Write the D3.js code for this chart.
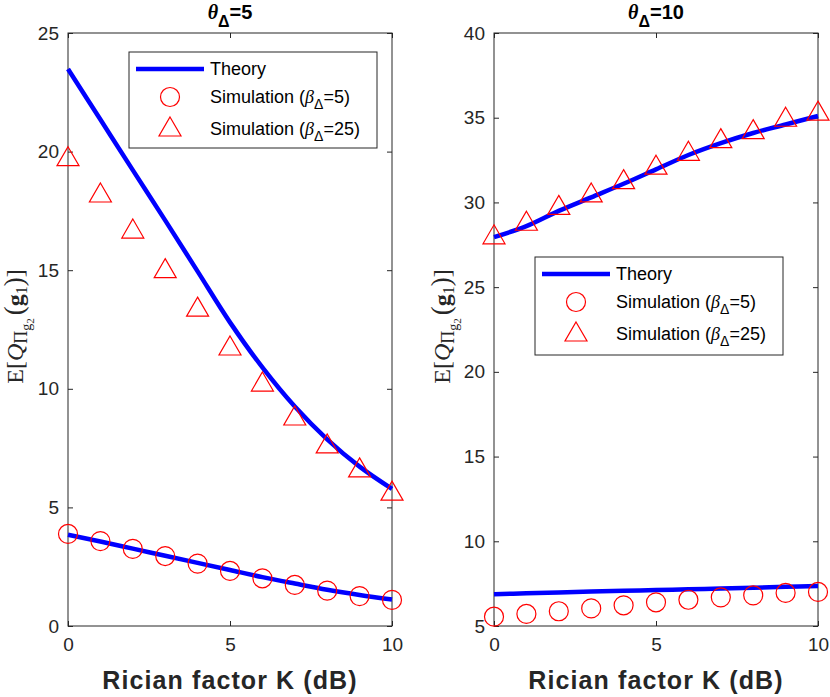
<!DOCTYPE html>
<html><head><meta charset="utf-8">
<script src="https://cdn.jsdelivr.net/npm/d3@7"></script>
<style>body{margin:0;background:#fff}svg{display:block}</style>
</head><body>
<script>
const K = [0,1,2,3,4,5,6,7,8,9,10];
// Panel 1 (theta=5)
const p1TheoryB25 = [23.48, 21.35, 19.22, 17.1, 14.95, 12.8, 10.9, 9.25, 7.87, 6.72, 5.78];
const p1SimB25    = [19.7, 18.17, 16.65, 14.98, 13.36, 11.72, 10.2, 8.77, 7.59, 6.58, 5.6];
const p1TheoryB5  = [3.85, 3.56, 3.26, 2.96, 2.66, 2.36, 2.06, 1.79, 1.53, 1.31, 1.12];
const p1SimB5     = [3.88, 3.58, 3.25, 2.95, 2.63, 2.32, 2.01, 1.73, 1.49, 1.26, 1.10];
// Panel 2 (theta=10)
const p2TheoryB25 = [27.95, 28.6, 29.5, 30.3, 31.1, 31.95, 32.8, 33.5, 34.1, 34.6, 35.1];
const p2SimB25    = [27.97, 28.77, 29.71, 30.44, 31.23, 32.08, 32.9, 33.65, 34.18, 34.91, 35.27];
const p2TheoryB5  = [6.87, 6.93, 6.98, 7.03, 7.08, 7.12, 7.17, 7.21, 7.26, 7.31, 7.36];
const p2SimB5     = [5.55, 5.71, 5.87, 6.04, 6.22, 6.40, 6.55, 6.69, 6.81, 6.95, 7.01];
const xTicks = [0,5,10];
const p1YTicks = [0,5,10,15,20,25];
const p2YTicks = [5,10,15,20,25,30,35,40];
const titles = ["5","10"];
const legendLabels = ["Theory","Simulation (","Simulation ("];
const legendVals = ["5","25"];

const W=830,H=697;
const svg=d3.select("body").append("svg").attr("width",W).attr("height",H);
const SANS="'Liberation Sans', Arial, Helvetica, sans-serif";
const SERIF="'Liberation Serif','DejaVu Serif',serif";
const AX="#262626";
const BLUE="#0000ff", RED="#ff0000";

const panels=[
 {x0:68,x1:392,y0:33,y1:626,dom:[0,25],yt:p1YTicks,th:[p1TheoryB25,p1TheoryB5],c:p1SimB5,t:p1SimB25,title:titles[0],
  leg:{x:129,y:52,w:248,h:96},ylabX:23},
 {x0:494,x1:818,y0:33,y1:626,dom:[5,40],yt:p2YTicks,th:[p2TheoryB25,p2TheoryB5],c:p2SimB5,t:p2SimB25,title:titles[1],
  leg:{x:535,y:257,w:248,h:98},ylabX:450}
];

panels.forEach(p=>{
  const x=d3.scaleLinear().domain([0,10]).range([p.x0,p.x1]);
  const y=d3.scaleLinear().domain(p.dom).range([p.y1,p.y0]);
  const g=svg.append("g");
  g.append("rect").attr("x",p.x0).attr("y",p.y0).attr("width",p.x1-p.x0).attr("height",p.y1-p.y0)
   .attr("fill","none").attr("stroke",AX).attr("stroke-width",1);
  const ax=g.append("g").attr("transform",`translate(0,${p.y1})`)
    .call(d3.axisBottom(x).tickValues(xTicks).tickSize(-5).tickPadding(12).tickFormat(d3.format("d")));
  const axT=g.append("g").attr("transform",`translate(0,${p.y0})`)
    .call(d3.axisTop(x).tickValues(xTicks).tickSize(-5).tickFormat(""));
  const ay=g.append("g").attr("transform",`translate(${p.x0},0)`)
    .call(d3.axisLeft(y).tickValues(p.yt).tickSize(-5).tickPadding(9).tickFormat(d3.format("d")));
  const ayR=g.append("g").attr("transform",`translate(${p.x1},0)`)
    .call(d3.axisRight(y).tickValues(p.yt).tickSize(-5).tickFormat(""));
  [ax,axT,ay,ayR].forEach(a=>{
    a.select(".domain").remove();
    a.selectAll("line").attr("stroke",AX);
    a.selectAll("text").attr("font-family",SANS).attr("font-size",19).attr("fill",AX);
  });
  const line=d3.line().x((d,i)=>x(K[i])).y(d=>y(d)).curve(d3.curveCatmullRom);
  p.th.forEach(s=>g.append("path").attr("d",line(s)).attr("fill","none").attr("stroke",BLUE).attr("stroke-width",4.5));
  g.selectAll(".c").data(p.c).enter().append("circle")
   .attr("cx",(d,i)=>x(K[i])).attr("cy",d=>y(d)).attr("r",9.5)
   .attr("fill","none").attr("stroke",RED).attr("stroke-width",1.2);
  const tri=(cx,cy)=>`M${cx},${cy-12}L${cx+11},${cy+7}L${cx-11},${cy+7}Z`;
  g.selectAll(".t").data(p.t).enter().append("path")
   .attr("d",(d,i)=>tri(x(K[i]),y(d)))
   .attr("fill","none").attr("stroke",RED).attr("stroke-width",1.2);
  const cx=(p.x0+p.x1)/2;
  const tt=g.append("text").attr("x",cx).attr("y",19).attr("text-anchor","middle")
    .attr("font-family",SANS).attr("font-weight","bold").attr("font-size",20).attr("fill","#000");
  tt.append("tspan").attr("font-family",SERIF).attr("font-style","italic").text("θ");
  tt.append("tspan").attr("dy",8).attr("font-size",16).text("Δ");
  tt.append("tspan").attr("dy",-8).text("="+p.title);
  g.append("text").attr("x",cx).attr("y",689).attr("text-anchor","middle")
   .attr("font-family",SANS).attr("font-weight","bold").attr("font-size",25).attr("letter-spacing",1.1).attr("fill",AX)
   .text("Rician factor K (dB)");
  // y label
  const yl=g.append("text").attr("transform",`translate(${p.ylabX},${(p.y0+p.y1)/2-3}) rotate(-90)`)
    .attr("text-anchor","middle").attr("font-family",SERIF).attr("font-size",24).attr("fill",AX);
  yl.append("tspan").text("E[");
  yl.append("tspan").attr("font-style","italic").text("Q");
  yl.append("tspan").attr("font-size",18).attr("dy",4).text("Π");
  yl.append("tspan").attr("font-size",14).attr("dy",4).text("g");
  yl.append("tspan").attr("font-size",11).attr("dy",3).text("2");
  yl.append("tspan").attr("dy",-11).attr("font-size",27).attr("dx",3).text("(");
  yl.append("tspan").attr("font-weight","bold").text("g");
  yl.append("tspan").attr("font-size",16).attr("dy",4).text("1");
  yl.append("tspan").attr("font-size",27).attr("dy",-4).text(")");
  yl.append("tspan").text("]");
  // legend
  const L=p.leg;
  g.append("rect").attr("x",L.x).attr("y",L.y).attr("width",L.w).attr("height",L.h)
   .attr("fill","#fff").attr("stroke",AX).attr("stroke-width",1);
  const rows=[L.y+17,L.y+45,L.y+77];
  const sx=L.x+41, tx=L.x+81;
  g.append("line").attr("x1",L.x+7).attr("x2",L.x+75).attr("y1",rows[0]).attr("y2",rows[0])
   .attr("stroke",BLUE).attr("stroke-width",4.5);
  g.append("circle").attr("cx",sx).attr("cy",rows[1]).attr("r",9.5).attr("fill","none").attr("stroke",RED).attr("stroke-width",1.2);
  g.append("path").attr("d",tri(sx,rows[2])).attr("fill","none").attr("stroke",RED).attr("stroke-width",1.2);
  g.append("text").attr("x",tx).attr("y",rows[0]+6).attr("font-family",SANS).attr("font-size",18).attr("fill","#000").text(legendLabels[0]);
  [1,2].forEach(k=>{
    const t=g.append("text").attr("x",tx).attr("y",rows[k]+6).attr("font-family",SANS).attr("font-size",18).attr("fill","#000");
    t.append("tspan").text(legendLabels[k]);
    t.append("tspan").attr("font-family",SERIF).attr("font-style","italic").text("β");
    t.append("tspan").attr("font-size",14).attr("dy",6).text("Δ");
    t.append("tspan").attr("dy",-6).text("="+legendVals[k-1]+")");
  });
});
</script>
</body></html>
